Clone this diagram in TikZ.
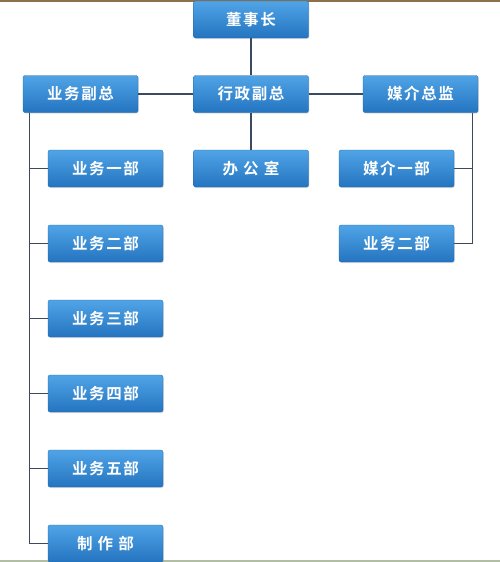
\documentclass[tikz,border=0pt]{standalone}
\usepackage{fontspec}
\newfontfamily\cjk[LetterSpace=10,BoldFont={Noto Sans CJK SC Bold}]{Noto Sans CJK SC}
\usetikzlibrary{calc, positioning, shadows}

\definecolor{boxTop}{RGB}{80,164,230}
\definecolor{boxBottom}{RGB}{36,116,192}
\definecolor{linkLine}{RGB}{60,74,96}
\definecolor{topRule}{RGB}{140,112,76}
\definecolor{bottomRule}{RGB}{178,190,164}

\begin{document}
\begin{tikzpicture}[x=1pt, y=-1pt,
    unitbox/.style={draw=boxBottom!90!black, line width=0.3pt, rounded corners=2pt,
        top color=boxTop, bottom color=boxBottom,
        minimum width=115pt, minimum height=37pt, inner sep=0pt,
        text=white, font=\cjk\bfseries\fontsize{15.5}{15.5}\selectfont,
        drop shadow={shadow xshift=0.8pt, shadow yshift=-1pt, opacity=0.25}},
    link/.style={draw=linkLine, line width=1.1pt}]
    \def\colX{105.5}
    \def\pitch{75}

    \useasboundingbox (0,0) rectangle (500,562);

    % Draw page rules
    \draw[topRule, line width=2pt] (0,1) -- (500,1);
    \draw[bottomRule, line width=2pt] (0,561) -- (500,561);

    % Draw top levels
    \node[unitbox] (dsz) at (251,19.5) {董事长};
    \node[unitbox] (xzfz) at (251,94) {行政副总};
    \node[unitbox] (bgs) at (251,168.5) {办 公 室};
    \node[unitbox] (ywfz) at (80.5,94) {业务副总};
    \node[unitbox] (mjzj) at (420.5,94) {媒介总监};

    % Draw media departments
    \node[unitbox] (mj1) at (396.5,168.5) {媒介一部};
    \node[unitbox] (mjyw2) at (396.5,243.5) {业务二部};

    % Draw business departments
    \foreach[count=\i] \name/\label in {yw1/业务一部, yw2/业务二部, yw3/业务三部,
                                         yw4/业务四部, yw5/业务五部, zzb/制 作 部} {
        \node[unitbox] (\name) at (\colX, {93.5 + \i * \pitch}) {\label};
    }

    % Connect top levels
    \draw[link] (dsz) -- (xzfz);
    \draw[link] (xzfz) -- (bgs);
    \draw[link] (ywfz) -- (xzfz);
    \draw[link] (xzfz) -- (mjzj);

    % Connect left trunk
    \coordinate (ltrunk) at ($(ywfz.south west) + (7,0)$);
    \foreach \name in {yw1, yw2, yw3, yw4, yw5, zzb} {
        \draw[link] (ltrunk) |- (\name.west);
    }

    % Connect right trunk
    \coordinate (rtrunk) at ($(mjzj.south east) + (-6,0)$);
    \foreach \name in {mj1, mjyw2} {
        \draw[link] (rtrunk) |- (\name.east);
    }
\end{tikzpicture}
\end{document}
